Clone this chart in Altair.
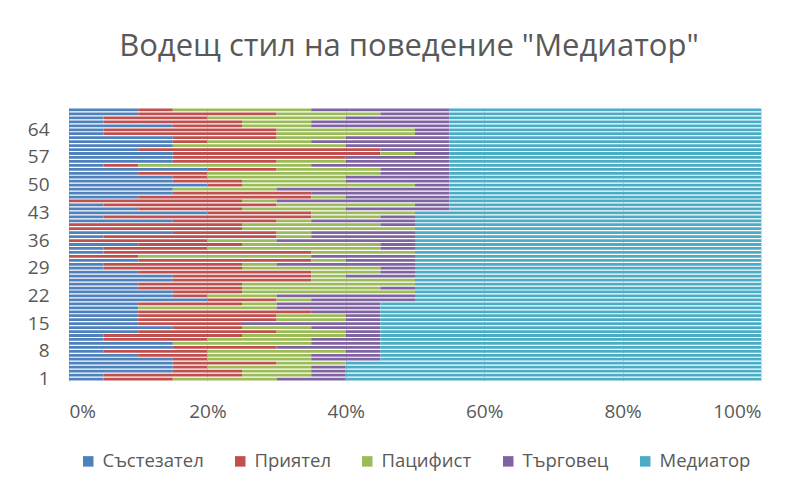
import altair as alt
import pandas as pd

rows = list(range(1, 70))
series_names = ["Състезател", "Приятел", "Пацифист", "Търговец", "Медиатор"]
colors = ["#4F81BD", "#C0504D", "#9BBB59", "#8064A2", "#4BACC6"]

sastezatel = [5, 5, 15, 15, 15, 15, 10, 5, 15, 15, 5, 5, 10, 15, 10, 10, 10, 10, 10, 10,
              20, 15, 15, 10, 10, 15, 15, 10, 5, 5, 10, 0, 5, 5, 10, 0, 5, 15, 0, 0,
              15, 5, 20, 10, 5, 0, 10, 15, 15, 20, 15, 15, 10, 20, 5, 15, 15, 15, 10, 15,
              15, 15, 5, 5, 15, 5, 5, 10, 10]
priyatel = [10, 20, 10, 5, 15, 5, 10, 15, 15, 0, 15, 20, 20, 10, 15, 20, 20, 25, 0, 15,
            10, 5, 10, 15, 15, 20, 20, 25, 20, 20, 25, 10, 30, 15, 15, 20, 25, 15, 25, 25,
            15, 30, 15, 15, 25, 25, 25, 20, 0, 5, 10, 5, 10, 10, 5, 15, 25, 30, 35, 0,
            5, 15, 25, 25, 10, 20, 15, 20, 5]
pacifist = [15, 10, 10, 15, 10, 15, 15, 20, 0, 20, 15, 15, 10, 10, 0, 10, 10, 0, 20, 5,
            5, 10, 25, 20, 25, 15, 5, 10, 20, 5, 5, 25, 15, 25, 20, 10, 5, 5, 25, 20,
            5, 10, 15, 15, 20, 5, 5, 0, 15, 25, 15, 20, 25, 15, 25, 10, 0, 5, 0, 25,
            15, 10, 20, 20, 10, 10, 20, 15, 20]
targovets = [10, 5, 5, 5, 0, 10, 10, 5, 15, 10, 10, 5, 5, 10, 20, 5, 5, 10, 15, 15,
             15, 20, 0, 5, 0, 0, 10, 5, 5, 20, 10, 15, 0, 5, 5, 20, 15, 15, 0, 5,
             15, 5, 0, 15, 5, 25, 15, 20, 25, 5, 15, 15, 10, 10, 20, 15, 15, 5, 10, 15,
             20, 15, 5, 5, 20, 20, 15, 10, 20]
mediator = [60, 60, 60, 60, 60, 55, 55, 55, 55, 55, 55, 55, 55, 55, 55, 55, 55, 55, 55, 55,
            50, 50, 50, 50, 50, 50, 50, 50, 50, 50, 50, 50, 50, 50, 50, 50, 50, 50, 50, 50,
            50, 50, 50, 45, 45, 45, 45, 45, 45, 45, 45, 45, 45, 45, 45, 45, 45, 45, 45, 45,
            45, 45, 45, 45, 45, 45, 45, 45, 45]

all_series = [sastezatel, priyatel, pacifist, targovets, mediator]
records = []
for i, r in enumerate(rows):
    for k, (name, vals) in enumerate(zip(series_names, all_series)):
        records.append({"row": r, "series": name, "order": k, "value": vals[i]})
df = pd.DataFrame(records)

FONT = "Open Sans"
TXT = "#595959"

chart = alt.Chart(df).mark_bar().encode(
    x=alt.X(
        "value:Q",
        stack="normalize",
        scale=alt.Scale(domain=[0, 1]),
        axis=alt.Axis(
            values=[0, 0.2, 0.4, 0.6, 0.8, 1.0],
            format=".0%",
            grid=True,
            gridColor="#d9d9d9",
            gridWidth=1,
            domain=False,
            ticks=False,
            labelPadding=21,
            labelFontSize=19,
            labelColor=TXT,
            labelFont=FONT,
            title=None,
        ),
    ),
    y=alt.Y(
        "row:O",
        sort="descending",
        scale=alt.Scale(paddingInner=0.3, paddingOuter=0.15),
        axis=alt.Axis(
            labelExpr="(datum.value - 1) % 7 == 0 ? datum.value : ''",
            labelOverlap=False,
            ticks=False,
            domain=False,
            labelPadding=20,
            labelFontSize=19,
            labelColor=TXT,
            labelFont=FONT,
            title=None,
        ),
    ),
    color=alt.Color(
        "series:N",
        scale=alt.Scale(domain=series_names, range=colors),
        legend=alt.Legend(
            title=None,
            orient="none",
            legendX=10,
            legendY=344,
            direction="horizontal",
            symbolType="square",
            symbolSize=110,
            symbolStrokeWidth=0,
            labelFontSize=18.5,
            labelFont=FONT,
            labelColor=TXT,
            columnPadding=27,
            labelOffset=5,
        ),
    ),
    order=alt.Order("order:Q"),
).properties(
    width=692,
    height=273,
    autosize=alt.AutoSizeParams(type="none"),
    padding={"left": 61, "top": 100, "right": 34, "bottom": 100},
    title=alt.TitleParams(
        text='Водещ стил на поведение "Медиатор"',
        font=FONT,
        fontSize=31,
        fontWeight="normal",
        color=TXT,
        anchor="middle",
        offset=37,
        dx=-6,
    ),
).configure_view(stroke=None)

chart.save("out.html", embed_options={"renderer": "svg", "actions": False})
